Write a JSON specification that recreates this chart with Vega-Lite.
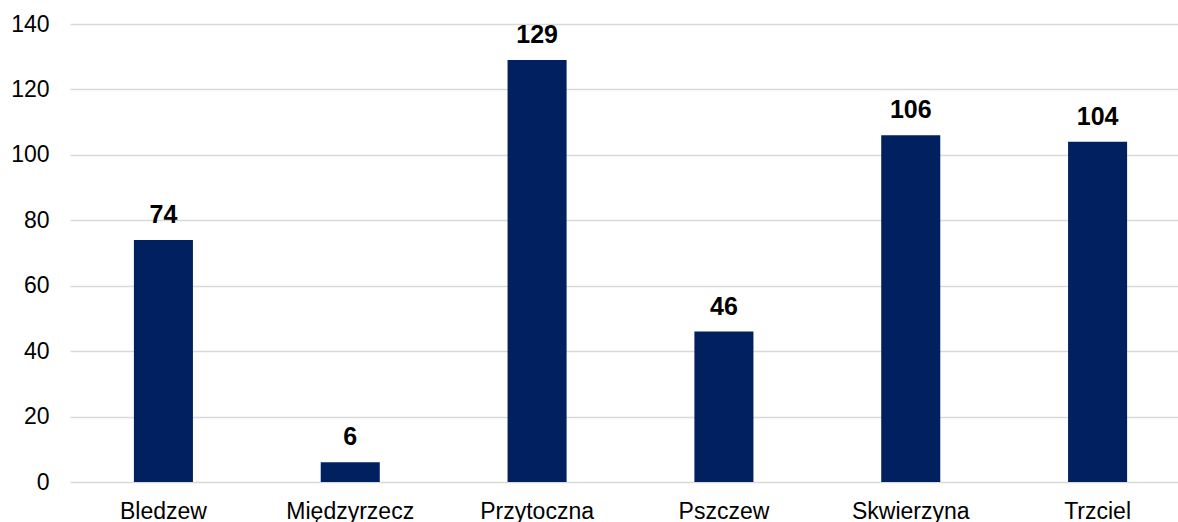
{
  "$schema": "https://vega.github.io/schema/vega-lite/v6.json",
  "autosize": "none",
  "width": 1108,
  "height": 458,
  "padding": {"left": 70, "top": 24, "right": 0, "bottom": 40},
  "background": "white",
  "config": {
    "view": {"stroke": null},
    "font": "Liberation Sans"
  },
  "data": {
    "values": [
      {"gmina": "Bledzew", "value": 74},
      {"gmina": "Międzyrzecz", "value": 6},
      {"gmina": "Przytoczna", "value": 129},
      {"gmina": "Pszczew", "value": 46},
      {"gmina": "Skwierzyna", "value": 106},
      {"gmina": "Trzciel", "value": 104}
    ]
  },
  "encoding": {
    "x": {
      "field": "gmina",
      "type": "nominal",
      "sort": null,
      "scale": {"range": [0, 1121], "paddingInner": 0.684, "paddingOuter": 0.342},
      "axis": {
        "title": null,
        "domain": false,
        "ticks": false,
        "labelAngle": 0,
        "labelFontSize": 23,
        "labelColor": "#000000",
        "labelPadding": 18,
        "labelFont": "Liberation Sans"
      }
    },
    "y": {
      "field": "value",
      "type": "quantitative",
      "scale": {"domain": [0, 140], "nice": false},
      "axis": {
        "title": null,
        "values": [0, 20, 40, 60, 80, 100, 120, 140],
        "domain": false,
        "ticks": false,
        "grid": true,
        "gridColor": "#d9d9d9",
        "gridWidth": 1.5,
        "labelFontSize": 23,
        "labelColor": "#000000",
        "labelPadding": 21,
        "labelFont": "Liberation Sans"
      }
    }
  },
  "layer": [
    {"mark": {"type": "bar", "color": "#002060"}},
    {
      "mark": {
        "type": "text",
        "fontSize": 25,
        "fontWeight": "bold",
        "color": "#000000",
        "baseline": "alphabetic",
        "dy": -17,
        "font": "Liberation Sans"
      },
      "encoding": {"text": {"field": "value", "type": "quantitative"}}
    }
  ]
}
